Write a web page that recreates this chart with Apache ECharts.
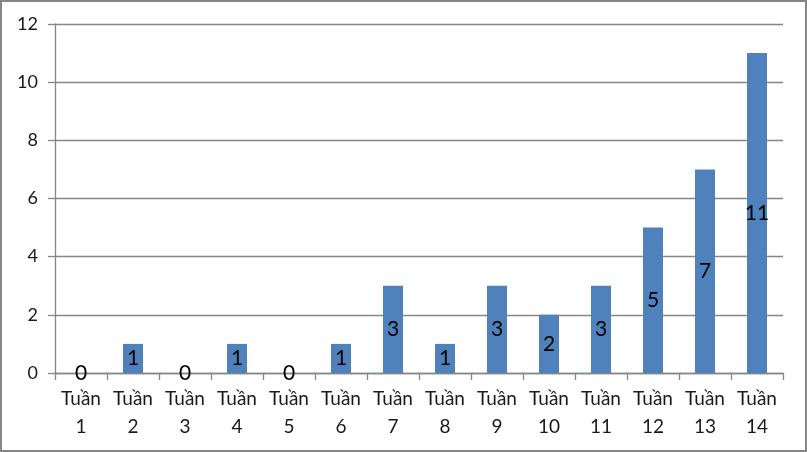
<!DOCTYPE html>
<html><head><meta charset="utf-8">
<script src="https://cdn.jsdelivr.net/npm/echarts@6/dist/echarts.min.js"></script>
<style>
html,body{margin:0;padding:0;background:#fff;}
#c{width:807px;height:452px;box-sizing:border-box;border:2px solid #868686;}
</style></head>
<body><div id="c"></div>
<script>
const categories = ["Tuần\n1","Tuần\n2","Tuần\n3","Tuần\n4","Tuần\n5","Tuần\n6","Tuần\n7","Tuần\n8","Tuần\n9","Tuần\n10","Tuần\n11","Tuần\n12","Tuần\n13","Tuần\n14"];
const values = [0,1,0,1,0,1,3,1,3,2,3,5,7,11];
const yMin = 0, yMax = 12, yStep = 2;

const chart = echarts.init(document.getElementById('c'), null, {renderer:'canvas'});
chart.setOption({
  animation:false,
  textStyle:{fontFamily:'Lato, "Open Sans", sans-serif'},
  grid:{left:53, right:22, top:22, bottom:77, containLabel:false},
  xAxis:{
    type:'category', data:categories,
    axisLine:{lineStyle:{color:'#868686', width:1.3}},
    axisTick:{show:true, length:7, lineStyle:{color:'#868686', width:1.3}},
    axisLabel:{color:'#1a1a1a', fontSize:19, lineHeight:28, margin:12, interval:0}
  },
  yAxis:{
    type:'value', min:yMin, max:yMax, interval:yStep,
    axisLine:{show:true, lineStyle:{color:'#868686', width:1.3}},
    axisTick:{show:true, length:7, lineStyle:{color:'#868686', width:1.3}},
    splitLine:{show:true, lineStyle:{color:'#868686', width:1.3}},
    axisLabel:{color:'#1a1a1a', fontSize:18, margin:17}
  },
  series:[{
    type:'bar', data:values, barWidth:20,
    itemStyle:{color:'#4F81BD'},
    label:{show:true, position:'inside', color:'#000', fontSize:21}
  }]
});
</script></body></html>
